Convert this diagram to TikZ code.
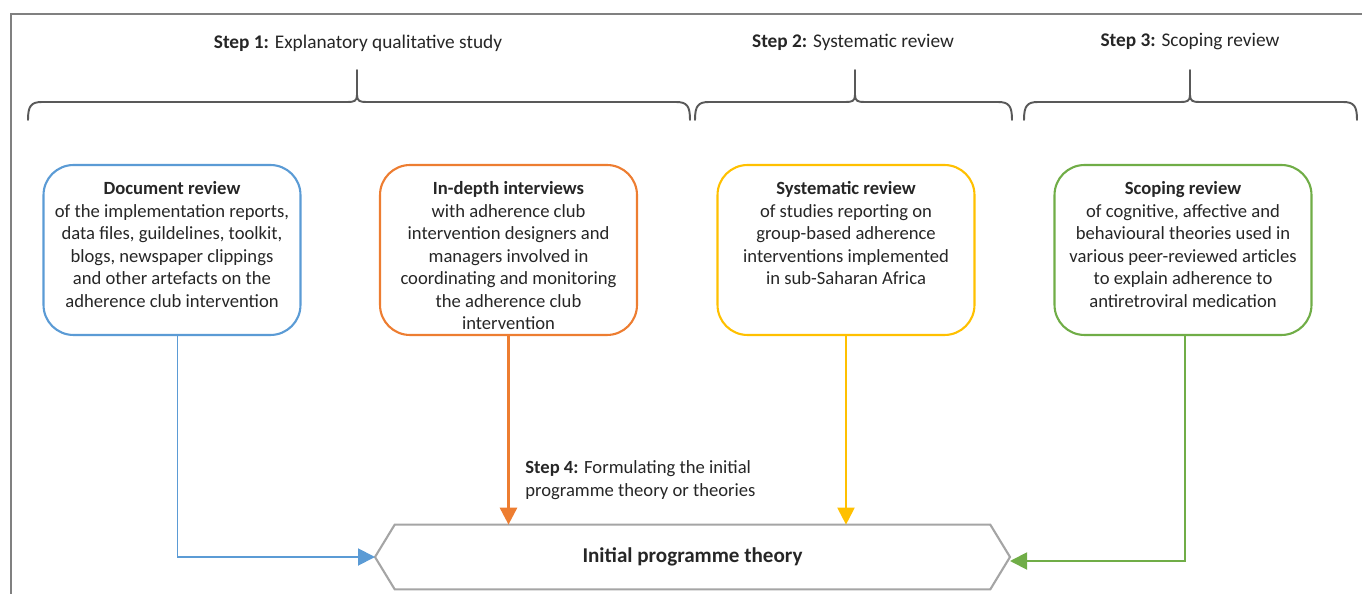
\documentclass[tikz,border=0pt]{standalone}
\usepackage{fontspec}
\setmainfont{Carlito}
\usepackage{tikz}
\usetikzlibrary{arrows.meta,positioning}
\usepackage{xcolor}
\definecolor{docblue}{HTML}{5B9BD5}
\definecolor{idiorange}{HTML}{ED7D31}
\definecolor{sysyellow}{HTML}{FFC000}
\definecolor{scopegreen}{HTML}{70AD47}
\definecolor{hexgray}{HTML}{A5A5A5}
\definecolor{bracegray}{HTML}{595959}
\definecolor{framegray}{HTML}{808080}
\definecolor{textgray}{HTML}{262626}

% left end, tip, right end of a curly brace (pixel units)
\newcommand{\stepbrace}[3]{%
  \draw[bracepath] (#1,120) .. controls (#1,106) and (#1+3,102) .. (#1+14,102)
    -- (#2-9,102) .. controls (#2-3,102) and (#2,101) .. (#2,95) -- (#2,70);
  \draw[bracepath] (#3,120) .. controls (#3,106) and (#3-3,102) .. (#3-14,102)
    -- (#2+9,102) .. controls (#2+3,102) and (#2,101) .. (#2,95);
}

\begin{document}
\begin{tikzpicture}[x=0.02cm,y=-0.02cm,>={Triangle[length=3.4mm,width=3.4mm]},
  font=\fontsize{10.6}{12.8}\selectfont,text=textgray,line cap=butt,
  stagebox/.style={draw,line width=1.2pt,rounded corners=0.6cm,minimum width=5.14cm,minimum height=3.4cm,inner sep=0pt},
  boxtext/.style={align=center,inner sep=0pt},
  bracepath/.style={draw=bracegray,line width=1.1pt,line cap=round},
  steplabel/.style={inner sep=0pt,font=\fontsize{11}{13}\selectfont}]
\useasboundingbox (0,0) rectangle (1362,594);
\draw[framegray,line width=0.6pt] (11,594) -- (11,14) -- (1362,14);

% steps and braces
\node[steplabel] (step1) at (358,43) {\textbf{Step 1:} Explanatory qualitative study};
\node[steplabel] (step2) at (853,42) {\textbf{Step 2:} Systematic review};
\node[steplabel] (step3) at (1190,42) {\textbf{Step 3:} Scoping review};
\stepbrace{28}{357}{690}
\stepbrace{695}{855}{1012}
\stepbrace{1024}{1190}{1357}

% the four sources
\node[stagebox,draw=docblue] (doc) at (172,250) {};
\node[stagebox,draw=idiorange] (idi) at (508.5,250) {};
\node[stagebox,draw=sysyellow] (sys) at (846,250) {};
\node[stagebox,draw=scopegreen] (scope) at (1183,250) {};
\node[boxtext,below=0.35cm of doc.north] (doctext) {\textbf{Document review}\\of the implementation reports,\\data files, guildelines, toolkit,\\blogs, newspaper clippings\\and other artefacts on the\\adherence club intervention};
\node[boxtext,below=0.35cm of idi.north] (iditext) {\textbf{In-depth interviews}\\with adherence club\\intervention designers and\\managers involved in\\coordinating and monitoring\\the adherence club\\intervention};
\node[boxtext,below=0.35cm of sys.north] (systext) {\textbf{Systematic review}\\of studies reporting on\\group-based adherence\\interventions implemented\\in sub-Saharan Africa};
\node[boxtext,below=0.35cm of scope.north] (scopetext) {\textbf{Scoping review}\\of cognitive, affective and\\behavioural theories used in\\various peer-reviewed articles\\to explain adherence to\\antiretroviral medication};

% initial programme theory
\node[inner sep=0pt,minimum width=11.9cm,minimum height=1.28cm,font=\fontsize{12}{14}\selectfont\bfseries] (theory) at (692.5,557) {Initial programme theory};
\coordinate (hexW) at (375,557);
\coordinate (hexE) at (1010,557);
\draw[hexgray,line width=1.2pt,line join=miter] (hexW) -- (theory.north west) -- (theory.north east) -- (hexE) -- (theory.south east) -- (theory.south west) -- cycle;
\node[inner sep=0pt,align=left,anchor=west] (step4) at (525,480) {\textbf{Step 4:} Formulating the initial\\programme theory or theories};

% connectors
\draw[->,docblue,line width=1.1pt] ([xshift=0.11cm]doc.south) |- (hexW);
\draw[->,idiorange,line width=1.6pt] (idi.south) -- (idi.south |- theory.north);
\draw[->,sysyellow,line width=1.2pt] (sys.south) -- (sys.south |- theory.north);
\draw[->,scopegreen,line width=1.1pt] ([xshift=0.04cm]scope.south) |- ([yshift=-0.08cm]hexE);
\end{tikzpicture}
\end{document}
